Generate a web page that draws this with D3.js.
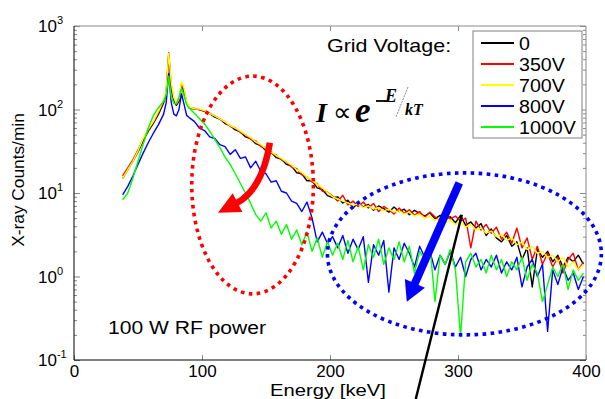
<!DOCTYPE html>
<html>
<head>
<meta charset="utf-8">
<script src="https://cdn.jsdelivr.net/npm/d3@7"></script>
<style>
body { margin: 0; background: #fff; }
svg { display: block; font-family: "Liberation Sans", Arial, sans-serif; }
</style>
</head>
<body>
<script>
// energy grid [keV]
const energy = [38,42,46,50,54,58,62,66,70,72,74,76,78,80,82,84,86,88,90,
  94,98,102,106,110,114,118,122,126,130,
  134,138,142,146,150,154,158,162,166,170,
  174,178,182,186,190,194,198,202,206,210,
  214,218,222,226,230,234,238,242,246,250,
  254,258,262,266,270,274,278,282,286,290,
  294,298,302,306,310,314,318,322,326,330,
  334,338,342,346,350,354,358,362,366,370,
  374,378,382,386,390,394,398];

// X-ray counts/min for each grid voltage
const counts0 = [15,19,24,31,42,55,68,88,120,150,450,170,130,112,125,190,160,118,104,
  101,100,95,89,81,77,68,64,57,54,
  47,45,39,37,32,31,26.5,25.5,22,21,
  17.5,17,14,14,11.5,11,9.3,8.8,9.0,7.6,
  8.2,6.6,7.6,6.8,7.3,6.2,7.0,6.5,5.9,6.8,
  6.0,6.4,5.5,6.2,5.7,5.3,5.8,4.9,5.4,4.8,
  5.2,4.4,5.4,4.1,4.5,3.8,4.3,3.1,3.7,2.9,
  2.6,3.1,2.3,2.6,1.6,2.2,0.75,2.1,1.7,2.0,
  1.5,1.8,1.3,1.7,1.5,1.8,1.4];
const counts350 = [16,20,25,33,44,57,70,92,125,160,480,190,135,115,130,205,170,120,106,
  103,99,96,90,84,77,71,63,60,53,
  50,44,42,36,35,30,28.5,25,23.5,20.5,
  19.5,16.5,15.5,13.5,13,10.5,10.3,9.2,8.0,9.4,
  7.2,8.0,6.9,7.8,6.6,7.5,6.0,6.9,6.3,5.6,
  6.6,5.7,6.3,5.4,6.0,5.1,5.9,5.2,4.7,5.6,
  4.9,5.3,4.6,5.0,2.2,4.6,3.6,4.2,3.3,3.9,
  2.8,3.4,2.5,3.8,2.2,2.9,1.6,2.3,1.4,1.9,
  1.3,1.7,1.1,1.6,1.9,1.2,1.5];
const counts700 = [15,19,24,32,45,58,72,95,130,170,470,210,140,118,135,215,180,125,107,
  102,101,97,89,84,77,71,64,60,55,
  50,46,41,38,34,31,28,26,23.5,21.5,
  19,17.5,15.5,14,12.8,11.5,10.2,9.0,8.5,8.0,
  7.6,7.1,7.4,6.7,7.0,6.4,6.7,6.1,6.4,5.9,
  6.1,5.6,5.9,5.3,5.6,5.0,5.3,4.7,5.0,4.4,
  4.7,4.2,4.5,3.9,4.2,3.6,3.8,3.3,3.5,3.0,
  3.2,2.7,2.9,2.4,2.6,2.1,2.3,1.9,2.0,1.7,
  1.8,1.5,1.7,1.3,1.5,1.2,1.4];
const counts800 = [9.5,12,16,22,30,40,52,66,88,120,270,120,88,84,100,155,115,85,80,
  72,60,56,47,45,38,36,29,33,26,
  27,20,24,18,17,13.5,14,10.5,10,8.0,
  7.5,6.0,7.8,5.0,2.6,3.4,2.5,3.0,2.2,3.1,
  1.9,2.8,2.1,3.0,0.85,2.4,1.8,2.7,0.65,2.2,
  1.6,2.5,1.9,1.3,2.3,1.7,2.0,1.2,1.8,1.4,
  2.0,1.3,1.7,1.0,1.6,1.9,1.2,1.6,1.3,1.8,
  1.1,1.5,1.2,1.7,0.75,1.3,1.6,1.0,1.4,0.22,
  1.2,0.8,1.3,0.9,1.1,0.7,1.0];
const counts1000 = [8.3,10,15,24,38,60,85,105,125,150,250,140,118,118,140,180,145,115,104,
  90,78,67,55,44,35,27,22,17,13,
  10,7.5,5.5,4.6,5.8,3.8,4.6,3.2,4.2,2.8,
  3.6,2.4,3.4,2.0,2.9,1.7,2.6,1.8,2.5,1.6,
  2.7,1.5,2.3,1.2,2.4,1.7,2.8,1.4,2.2,1.6,
  2.6,1.5,2.3,1.1,2.0,1.6,2.4,0.5,1.8,1.4,
  2.1,1.2,0.19,1.5,1.9,1.3,1.6,1.1,1.8,1.2,
  1.6,1.0,1.5,1.2,1.7,0.9,1.4,1.1,0.5,0.8,
  1.3,1.0,1.4,0.7,1.2,0.9,1.1];

const seriesNames = ["0", "350V", "700V", "800V", "1000V"];
const seriesColors = ["#000000", "#ff0000", "#ffff00", "#0000ff", "#00ff00"];
const series = [counts0, counts350, counts700, counts800, counts1000];

const xTicks = [0, 100, 200, 300, 400];
const yDecades = [0.1, 1, 10, 100, 1000];
const yExponents = ["-1", "0", "1", "2", "3"];

// annotations, in data units (energy, counts)
const redEllipse = {e0: 92, e1: 187, v0: 0.62, v1: 251};
const blueEllipse = {e0: 198, e1: 412, v0: 0.2, v1: 17.4};
const redArrow = {start: [153, 40], ctrl: [147, 10.9], tip: [112.5, 5.8]};
const blueArrow = {start: [301, 13.2], tip: [260, 0.5]};
const pointerLine = {start: [303, 5.5], end: [267, 0.034]};

const width = 605, height = 399;
const margin = {top: 26, right: 19, bottom: 39, left: 74};

const svg = d3.select("body").append("svg")
    .attr("width", width)
    .attr("height", height);

const x = d3.scaleLinear().domain([0, 400]).range([margin.left, width - margin.right]);
const y = d3.scaleLog().domain([0.1, 1000]).range([height - margin.bottom, margin.top]);

// stretch text horizontally, the original fonts are wide
function stretch(sel, k) {
    sel.each(function () {
        const w = this.getComputedTextLength();
        d3.select(this).attr("textLength", w * k).attr("lengthAdjust", "spacingAndGlyphs");
    });
}

// minor log ticks
const minorVals = [];
yDecades.slice(0, -1).forEach(d => { for (let k = 2; k <= 9; k++) minorVals.push(d * k); });

const tickColor = "#8a8a8a";
const axes = svg.append("g");
axes.append("g").attr("transform", `translate(0,${height - margin.bottom})`)
    .call(d3.axisBottom(x).tickValues(xTicks).tickSizeInner(-5).tickSizeOuter(0).tickPadding(5))
    .call(g => g.select(".domain").remove())
    .call(g => g.selectAll("line").attr("stroke", tickColor))
    .call(g => g.selectAll("text").attr("font-size", 17).attr("font-family", "Liberation Sans, Arial, sans-serif").attr("fill", "#000"));
axes.append("g").attr("transform", `translate(0,${margin.top})`)
    .call(d3.axisTop(x).tickValues(xTicks.slice(1, -1)).tickSizeInner(-5).tickSizeOuter(0).tickFormat(""))
    .call(g => g.select(".domain").remove())
    .call(g => g.selectAll("line").attr("stroke", tickColor));

[["left", d3.axisLeft, margin.left], ["right", d3.axisRight, width - margin.right]].forEach(([side, ax, px]) => {
    axes.append("g").attr("transform", `translate(${px},0)`)
        .call(ax(y).tickValues(yDecades).tickSizeInner(-6).tickSizeOuter(0).tickFormat(""))
        .call(g => g.select(".domain").remove())
        .call(g => g.selectAll("line").attr("stroke", tickColor));
    axes.append("g").attr("transform", `translate(${px},0)`)
        .call(ax(y).tickValues(minorVals).tickSizeInner(-3).tickSizeOuter(0).tickFormat(""))
        .call(g => g.select(".domain").remove())
        .call(g => g.selectAll("line").attr("stroke", tickColor));
});

// y tick labels 10^n
const yl = svg.append("g").attr("font-size", 17);
yDecades.forEach((d, i) => {
    const t = yl.append("text").attr("x", 38).attr("y", y(d) + 6);
    t.append("tspan").text("10");
    t.append("tspan").attr("font-size", 11).attr("dy", -8).text(yExponents[i]);
});

// data lines
const line = d3.line().x((d, i) => x(energy[i])).y(d => y(d));
const plot = svg.append("g");
series.forEach((s, i) => {
    plot.append("path")
        .datum(s)
        .attr("fill", "none")
        .attr("stroke", seriesColors[i])
        .attr("stroke-width", 1.4)
        .attr("stroke-linejoin", "round")
        .attr("d", line);
});

// frame
const fr = svg.append("g").attr("fill", "none");
fr.append("line").attr("x1", x(0)).attr("x2", x(400)).attr("y1", y(1000)).attr("y2", y(1000)).attr("stroke", "#8a8a8a");
fr.append("line").attr("x1", x(400)).attr("x2", x(400)).attr("y1", y(1000)).attr("y2", y(0.1)).attr("stroke", "#8a8a8a");
fr.append("line").attr("x1", x(0)).attr("x2", x(0)).attr("y1", y(1000)).attr("y2", y(0.1)).attr("stroke", "#000");
fr.append("line").attr("x1", x(0)).attr("x2", x(400)).attr("y1", y(0.1)).attr("y2", y(0.1)).attr("stroke", "#000");

// axis titles
const xt = svg.append("text").attr("x", (x(0) + x(400)) / 2 - 2).attr("y", 396)
    .attr("text-anchor", "middle").attr("font-size", 17).text("Energy [keV]");
stretch(xt, 1.19);
const yt = svg.append("text").attr("transform", "translate(24,180) rotate(-90)")
    .attr("text-anchor", "middle").attr("font-size", 16).text("X-ray Counts/min");
stretch(yt, 1.08);

// legend
const leg = svg.append("g");
leg.append("rect").attr("x", 473).attr("y", 31).attr("width", 109).attr("height", 107)
    .attr("fill", "#fff").attr("stroke", "#808080");
seriesNames.forEach((n, i) => {
    const ly = 43 + i * 21;
    leg.append("line").attr("x1", 481).attr("x2", 514).attr("y1", ly).attr("y2", ly)
        .attr("stroke", seriesColors[i]).attr("stroke-width", 2);
    const t = leg.append("text").attr("x", 519).attr("y", ly + 6.5).attr("font-size", 18).text(n);
    stretch(t, 1.09);
});

const gv = svg.append("text").attr("x", 327).attr("y", 52).attr("font-size", 19).text("Grid Voltage:");
stretch(gv, 1.13);
const rf = svg.append("text").attr("x", 108).attr("y", 334).attr("font-size", 18).text("100 W RF power");
stretch(rf, 1.17);

// equation I ∝ e^(-E/kT)
const eq = svg.append("g").attr("font-family", "Liberation Serif, Times New Roman, serif");
eq.append("text").attr("x", 316).attr("y", 122).attr("font-size", 28)
    .attr("font-weight", "bold").attr("font-style", "italic").text("I");
eq.append("text").attr("x", 333).attr("y", 121).attr("font-size", 26).text("\u221D");
eq.append("text").attr("x", 355).attr("y", 122).attr("font-size", 35)
    .attr("font-weight", "bold").attr("font-style", "italic").text("e");
eq.append("line").attr("x1", 376).attr("x2", 387).attr("y1", 101).attr("y2", 101)
    .attr("stroke", "#000").attr("stroke-width", 1.8);
eq.append("text").attr("x", 385).attr("y", 102).attr("font-size", 18)
    .attr("font-weight", "bold").attr("font-style", "italic").text("E");
eq.append("line").attr("x1", 408).attr("x2", 396).attr("y1", 87).attr("y2", 117)
    .attr("stroke", "#888").attr("stroke-width", 1).attr("stroke-dasharray", "2 1");
eq.append("text").attr("x", 405).attr("y", 115).attr("font-size", 16)
    .attr("font-weight", "bold").attr("font-style", "italic").text("kT");

// dotted ellipses
function ellipse(e, color) {
    svg.append("ellipse")
        .attr("cx", (x(e.e0) + x(e.e1)) / 2).attr("cy", (y(e.v0) + y(e.v1)) / 2)
        .attr("rx", (x(e.e1) - x(e.e0)) / 2).attr("ry", (y(e.v0) - y(e.v1)) / 2)
        .attr("fill", "none").attr("stroke", color)
        .attr("stroke-width", 3.6).attr("stroke-dasharray", "3.6 4.4");
}
ellipse(redEllipse, "#ff0000");
ellipse(blueEllipse, "#0000ff");

// pointer line
svg.append("line")
    .attr("x1", x(pointerLine.start[0])).attr("y1", y(pointerLine.start[1]))
    .attr("x2", x(pointerLine.end[0])).attr("y2", y(pointerLine.end[1]))
    .attr("stroke", "#000").attr("stroke-width", 2.4);

// thick arrows
function arrowHead(from, tip, len, wid, color) {
    const dx = tip[0] - from[0], dy = tip[1] - from[1];
    const d = Math.hypot(dx, dy), ux = dx / d, uy = dy / d;
    const bx = tip[0] - ux * len, by = tip[1] - uy * len;
    const px = -uy * wid / 2, py = ux * wid / 2;
    svg.append("path")
        .attr("d", `M${tip[0]},${tip[1]}L${bx + px},${by + py}L${bx - px},${by - py}Z`)
        .attr("fill", color);
    return [bx + ux * 2, by + uy * 2];
}
{
    const s = [x(redArrow.start[0]), y(redArrow.start[1])];
    const c = [x(redArrow.ctrl[0]), y(redArrow.ctrl[1])];
    const t = [x(redArrow.tip[0]), y(redArrow.tip[1])];
    const b = arrowHead(c, t, 22, 21, "#ff0000");
    svg.append("path").attr("d", `M${s[0]},${s[1]}Q${c[0]},${c[1]} ${b[0]},${b[1]}`)
        .attr("fill", "none").attr("stroke", "#ff0000").attr("stroke-width", 6.5);
}
{
    const s = [x(blueArrow.start[0]), y(blueArrow.start[1])];
    const t = [x(blueArrow.tip[0]), y(blueArrow.tip[1])];
    const b = arrowHead(s, t, 20, 22, "#0000ff");
    svg.append("line").attr("x1", s[0]).attr("y1", s[1]).attr("x2", b[0]).attr("y2", b[1])
        .attr("stroke", "#0000ff").attr("stroke-width", 8);
}
</script>
</body>
</html>
